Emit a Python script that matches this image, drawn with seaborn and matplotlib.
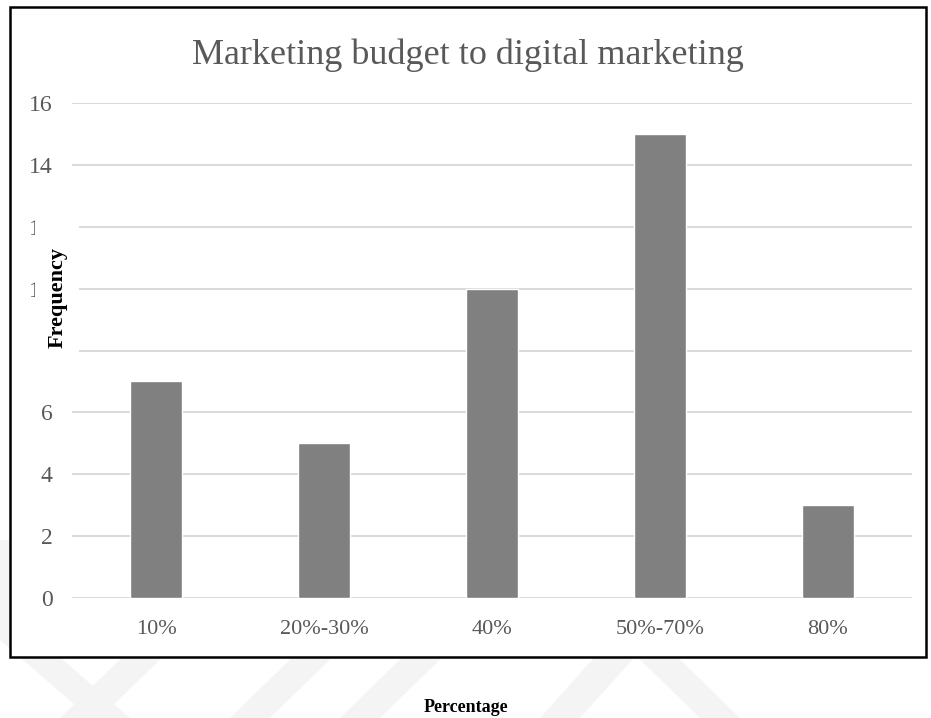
import matplotlib
matplotlib.use("Agg")
import matplotlib.pyplot as plt
from matplotlib.patches import Rectangle, Polygon
import seaborn as sns

# Survey responses: share of marketing budget spent on digital marketing
categories = ["10%", "20%-30%", "40%", "50%-70%", "80%"]
frequencies = [7, 5, 10, 15, 3]
y_ticks = [0, 2, 4, 6, 8, 10, 12, 14, 16]

W, H = 931, 718
sns.set_theme(style="white")
plt.rcParams["font.family"] = ["Liberation Serif", "DejaVu Serif"]

fig = plt.figure(figsize=(W / 100, H / 100), dpi=100)
fig.patch.set_facecolor("white")


def fx(px):
    return px / W


def fy(py):
    return 1 - py / H


# faint background watermark bands
wm = "#f4f4f4"
bands = [
    [(0, 640), (40, 640), (130, 718), (90, 718)],
    [(60, 718), (140, 640), (180, 640), (100, 718)],
    [(230, 718), (310, 640), (350, 640), (270, 718)],
    [(340, 718), (420, 640), (460, 640), (380, 718)],
    [(540, 718), (610, 640), (650, 640), (580, 718)],
    [(620, 640), (660, 640), (740, 718), (700, 718)],
    [(0, 540), (10, 540), (10, 640), (0, 640)],
]
for b in bands:
    fig.patches.append(Polygon([(fx(x), fy(y)) for x, y in b], closed=True,
                               transform=fig.transFigure, facecolor=wm,
                               edgecolor="none", zorder=-3))

# chart frame
fig.patches.append(Rectangle((fx(10), fy(657)), fx(926) - fx(10), fy(7) - fy(657),
                             transform=fig.transFigure, facecolor="white",
                             edgecolor="black", linewidth=1.8, zorder=-2))

ax = fig.add_axes([fx(72), fy(598), fx(912) - fx(72), fy(103) - fy(598)])
ax.set_facecolor("none")

sns.barplot(x=categories, y=frequencies, color="#808080", saturation=1,
            width=0.315, ax=ax, zorder=3)

ax.set_ylim(0, 16)
ax.set_xlim(-0.5, 4.5)
ax.set_yticks(y_ticks)
ax.yaxis.grid(True, color="#d9d9d9", linewidth=1.4)
ax.set_axisbelow(True)
for s in ax.spines.values():
    s.set_visible(False)
ax.tick_params(axis="y", length=0, pad=14, labelsize=17, labelcolor="#595959")
ax.tick_params(axis="x", length=0, pad=16, labelsize=16, labelcolor="#595959")
ax.set_xlabel("")
ax.set_ylabel("")

# y-axis title box sits over the middle tick labels
fig.patches.append(Rectangle((fx(35), fy(380)), fx(79) - fx(35), fy(200) - fy(380),
                             transform=fig.transFigure, facecolor="white",
                             edgecolor="none", zorder=5))
fig.text(fx(58), fy(298), "Frequency", rotation=90, ha="center", va="center",
         fontsize=16, fontweight="bold", color="black", zorder=6)

fig.text(fx(468), fy(55), "Marketing budget to digital marketing",
         ha="center", va="center", fontsize=26, color="#595959")

fig.text(fx(466), fy(708), "Percentage", ha="center", va="center",
         fontsize=13, fontweight="bold", color="black")

fig.savefig("out.png", dpi=100, facecolor="white")
